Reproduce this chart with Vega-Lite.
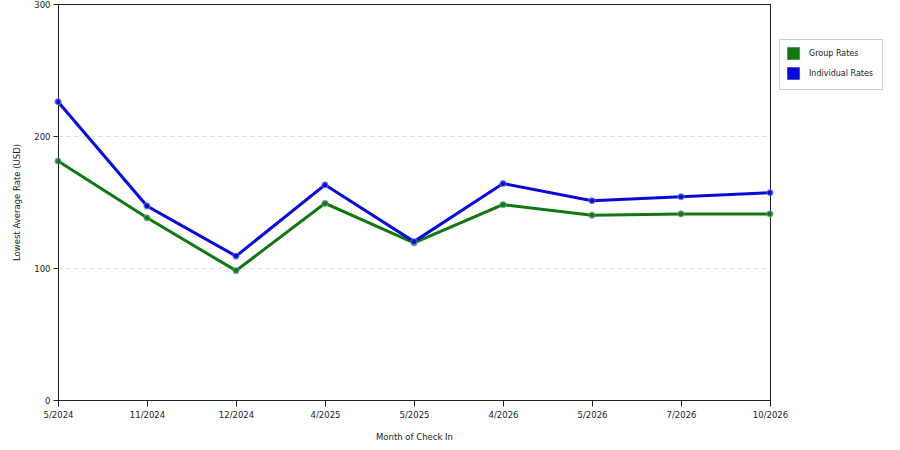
{
  "$schema": "https://vega.github.io/schema/vega-lite/v6.json",
  "autosize": "none",
  "width": 712,
  "height": 396,
  "padding": {"left": 58, "top": 4, "right": 130, "bottom": 50},
  "background": "white",
  "config": {
    "view": {"stroke": "#222222", "strokeWidth": 1},
    "font": "DejaVu Sans",
    "axis": {"labelFont": "DejaVu Sans", "titleFont": "DejaVu Sans", "labelFontSize": 8.5, "titleFontSize": 8.5, "titleFontWeight": "normal", "labelColor": "#222222", "titleColor": "#222222", "domainColor": "#222222", "tickColor": "#222222"}
  },
  "data": {
    "values": [
      {"month": "5/2024", "series": "Group Rates", "rate": 181},
      {"month": "11/2024", "series": "Group Rates", "rate": 138},
      {"month": "12/2024", "series": "Group Rates", "rate": 98},
      {"month": "4/2025", "series": "Group Rates", "rate": 149},
      {"month": "5/2025", "series": "Group Rates", "rate": 119},
      {"month": "4/2026", "series": "Group Rates", "rate": 148},
      {"month": "5/2026", "series": "Group Rates", "rate": 140},
      {"month": "7/2026", "series": "Group Rates", "rate": 141},
      {"month": "10/2026", "series": "Group Rates", "rate": 141},
      {"month": "5/2024", "series": "Individual Rates", "rate": 226},
      {"month": "11/2024", "series": "Individual Rates", "rate": 147},
      {"month": "12/2024", "series": "Individual Rates", "rate": 109},
      {"month": "4/2025", "series": "Individual Rates", "rate": 163},
      {"month": "5/2025", "series": "Individual Rates", "rate": 120},
      {"month": "4/2026", "series": "Individual Rates", "rate": 164},
      {"month": "5/2026", "series": "Individual Rates", "rate": 151},
      {"month": "7/2026", "series": "Individual Rates", "rate": 154},
      {"month": "10/2026", "series": "Individual Rates", "rate": 157}
    ]
  },
  "encoding": {
    "x": {
      "field": "month", "type": "ordinal", "sort": null,
      "scale": {"type": "point", "padding": 0},
      "axis": {"title": "Month of Check In", "labelAngle": 0, "tickSize": 6, "labelPadding": 4, "titlePadding": 14, "grid": false}
    },
    "y": {
      "field": "rate", "type": "quantitative",
      "scale": {"domain": [0, 300], "nice": false},
      "axis": {
        "title": "Lowest Average Rate (USD)", "values": [0, 100, 200, 300], "tickSize": 5, "labelPadding": 3, "titlePadding": 12, "grid": true,
        "gridDash": {"condition": {"test": "datum.value == 300 || datum.value == 0", "value": []}, "value": [4, 4]},
        "gridColor": {"condition": {"test": "datum.value == 300 || datum.value == 0", "value": "#222222"}, "value": "#d8d8d8"},
        "gridWidth": 1
      }
    },
    "color": {
      "field": "series", "type": "nominal",
      "scale": {"domain": ["Group Rates", "Individual Rates"], "range": ["#117711", "#0a0ad8"]},
      "legend": {
        "title": null, "orient": "none", "legendX": 721, "legendY": 35,
        "symbolType": "square", "symbolSize": 144, "symbolStrokeColor": "#333333", "symbolStrokeWidth": 0.5,
        "labelFontSize": 8, "labelFont": "DejaVu Sans", "labelColor": "#222222",
        "rowPadding": 5, "padding": 8, "strokeColor": "#cccccc", "fillColor": "white",
        "labelOffset": 9, "symbolOpacity": 1
      }
    }
  },
  "layer": [
    {"mark": {"type": "line", "strokeWidth": 3}},
    {"mark": {"type": "point", "filled": true, "size": 40, "opacity": 0.85, "stroke": "#7799cc", "strokeWidth": 0.8}}
  ]
}
